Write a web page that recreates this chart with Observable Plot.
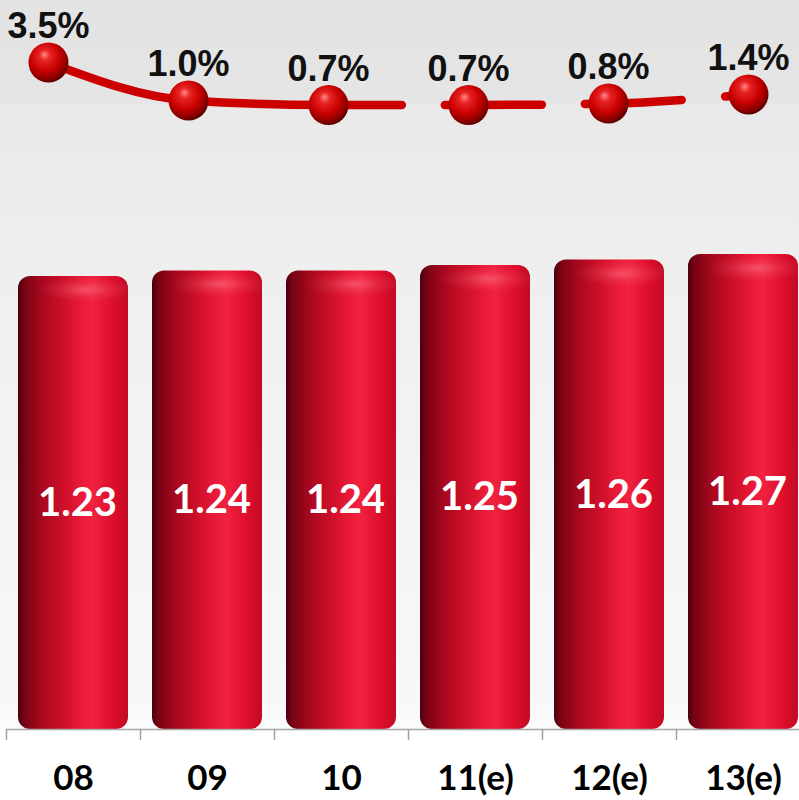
<!DOCTYPE html>
<html>
<head>
<meta charset="utf-8">
<script src="https://cdn.jsdelivr.net/npm/d3@7"></script>
<script src="https://cdn.jsdelivr.net/npm/@observablehq/plot@0.6"></script>
<style>
  html, body { margin: 0; padding: 0; background: #ffffff; }
  #wrap {
    position: relative; width: 799px; height: 800px; overflow: hidden;
    background: linear-gradient(to bottom, #e3e3e3 0px, #e5e5e5 100px, #e9e9e9 106px, #eeeeee 250px, #f3f3f3 450px, #f8f8f8 700px, #fbfbfb 728px, #ffffff 732px);
  }
  #bars, #growth { position: absolute; left: 0; top: 0; }
  #defs { position: absolute; width: 0; height: 0; }
</style>
</head>
<body>
<div id="wrap">
  <svg id="defs" width="0" height="0">
    <defs>
      <linearGradient id="cyl" x1="0" x2="1" y1="0" y2="0">
        <stop offset="0" stop-color="#4a000c"/>
        <stop offset="0.06" stop-color="#780414"/>
        <stop offset="0.22" stop-color="#a8081e"/>
        <stop offset="0.42" stop-color="#d0102a"/>
        <stop offset="0.6" stop-color="#ec1c3a"/>
        <stop offset="0.68" stop-color="#f0223f"/>
        <stop offset="0.86" stop-color="#de0e2c"/>
        <stop offset="1" stop-color="#c20a24"/>
      </linearGradient>
      <radialGradient id="cylTop" cx="0.62" cy="0.03" r="0.45"
        gradientTransform="translate(0.62,0.03) scale(1,0.06) translate(-0.62,-0.03)">
        <stop offset="0" stop-color="#ff8a9a" stop-opacity="0.45"/>
        <stop offset="0.5" stop-color="#ff8a9a" stop-opacity="0.15"/>
        <stop offset="1" stop-color="#ff8a9a" stop-opacity="0"/>
      </radialGradient>
      <radialGradient id="ball" cx="0.42" cy="0.38" r="0.62" fx="0.4" fy="0.3">
        <stop offset="0" stop-color="#ff8a8a"/>
        <stop offset="0.22" stop-color="#e82424"/>
        <stop offset="0.6" stop-color="#c80000"/>
        <stop offset="0.88" stop-color="#8a0000"/>
        <stop offset="1" stop-color="#5e0000"/>
      </radialGradient>
    </defs>
  </svg>
  <div id="bars"></div>
  <div id="growth"></div>
</div>
<script>
// ---- data ----
const years = ["08", "09", "10", "11(e)", "12(e)", "13(e)"];
const volumes = [1.23, 1.24, 1.24, 1.25, 1.26, 1.27];
const growthRates = [3.5, 1.0, 0.7, 0.7, 0.8, 1.4];

const barData = years.map((year, i) => ({year, value: volumes[i]}));
const growthData = years.map((year, i) => ({year, growth: growthRates[i]}));

// ---- bar chart ----
const yBase = 0.406;
const yRange = [729, 254];
const yDomain = [yBase, 1.27];
const pxPerUnit = (yRange[0] - yRange[1]) / (yDomain[1] - yDomain[0]);
const xRange = [6, 810];
const step = (xRange[1] - xRange[0]) / years.length;
const tickLen = 11 / pxPerUnit;

const barFont = "Lato, 'Open Sans', sans-serif";

const bars = Plot.plot({
  width: 799,
  height: 800,
  marginLeft: 6, marginRight: 0, marginTop: 0, marginBottom: 0,
  style: {background: "transparent", overflow: "visible"},
  x: {domain: years, range: xRange, padding: 0, axis: null},
  y: {domain: yDomain, range: yRange, axis: null},
  marks: [
    Plot.barY(barData, {x: "year", y1: yBase, y2: "value", fill: "url(#cyl)", insetLeft: 12, insetRight: 12, rx: 12}),
    Plot.barY(barData, {x: "year", y1: yBase, y2: "value", fill: "url(#cylTop)", insetLeft: 12, insetRight: 12, rx: 12}),
    Plot.ruleY([yBase], {stroke: "#a8a8a8", strokeWidth: 1.5}),
    Plot.ruleX(years, {x: d => d, y1: yBase, y2: yBase - tickLen, dx: -step / 2, stroke: "#a0a0a0", strokeWidth: 1.5}),
    Plot.text(barData, {
      x: "year", y: d => (yBase + d.value) / 2, text: d => d.value.toFixed(2),
      fill: "#ffffff", fontSize: 40, fontWeight: 700, fontFamily: barFont, dx: 4
    }),
    Plot.text(years, {
      x: d => d, y: yBase, dy: 49, text: d => d,
      fill: "#000000", fontSize: 35, fontWeight: 700, fontFamily: barFont
    })
  ]
});
document.getElementById("bars").appendChild(bars);

// ---- growth line ----
const xPts = [48, 748];
const growth = Plot.plot({
  width: 799,
  height: 140,
  marginLeft: 48, marginRight: 51, marginTop: 0, marginBottom: 0,
  style: {background: "transparent", overflow: "visible"},
  x: {type: "point", domain: years, range: xPts, padding: 0, axis: null},
  y: {domain: [0, 3.5], range: [115.2, 62], axis: null},
  marks: [
    Plot.line(growthData, {x: "year", y: "growth", stroke: "#cc0000", strokeWidth: 8.5, curve: "monotone-x", strokeLinecap: "round"}),
    Plot.dot(growthData, {x: "year", y: "growth", r: 20, fill: "url(#ball)", stroke: "none"}),
    Plot.text(growthData, {
      x: "year", y: "growth", dy: -36, text: d => d.growth.toFixed(1) + "%",
      fill: "#111111", fontSize: 36, fontWeight: 700, fontFamily: "'Liberation Sans', Arial, sans-serif"
    })
  ]
});
document.getElementById("growth").appendChild(growth);

// gaps in the growth line (between the estimated years), as in the reference
(function () {
  const path = growth.querySelector("g[aria-label='line'] path");
  if (!path || !path.getTotalLength) return;
  const sx = growth.scale && growth.scale("x");
  const xOf = (d, i) => (sx && sx.apply) ? sx.apply(d) : xPts[0] + i * (xPts[1] - xPts[0]) / (years.length - 1);
  const px = years.map(xOf);
  const bounds = [];
  for (let i = 2; i < years.length - 1; i++) {
    const s = px[i + 1] - px[i];
    bounds.push(px[i] + 0.52 * s, px[i] + 0.83 * s);
  }
  const total = path.getTotalLength();
  const lens = [];
  let b = 0;
  for (let L = 0; L <= total && b < bounds.length; L += 0.5) {
    const p = path.getPointAtLength(L);
    while (b < bounds.length && p.x >= bounds[b]) { lens.push(L); b++; }
  }
  const dash = [];
  let prev = 0;
  lens.forEach(L => { dash.push(L - prev); prev = L; });
  dash.push(total - prev + 10, 1000);
  path.setAttribute("stroke-dasharray", dash.join(" "));
})();
</script>
</body>
</html>
